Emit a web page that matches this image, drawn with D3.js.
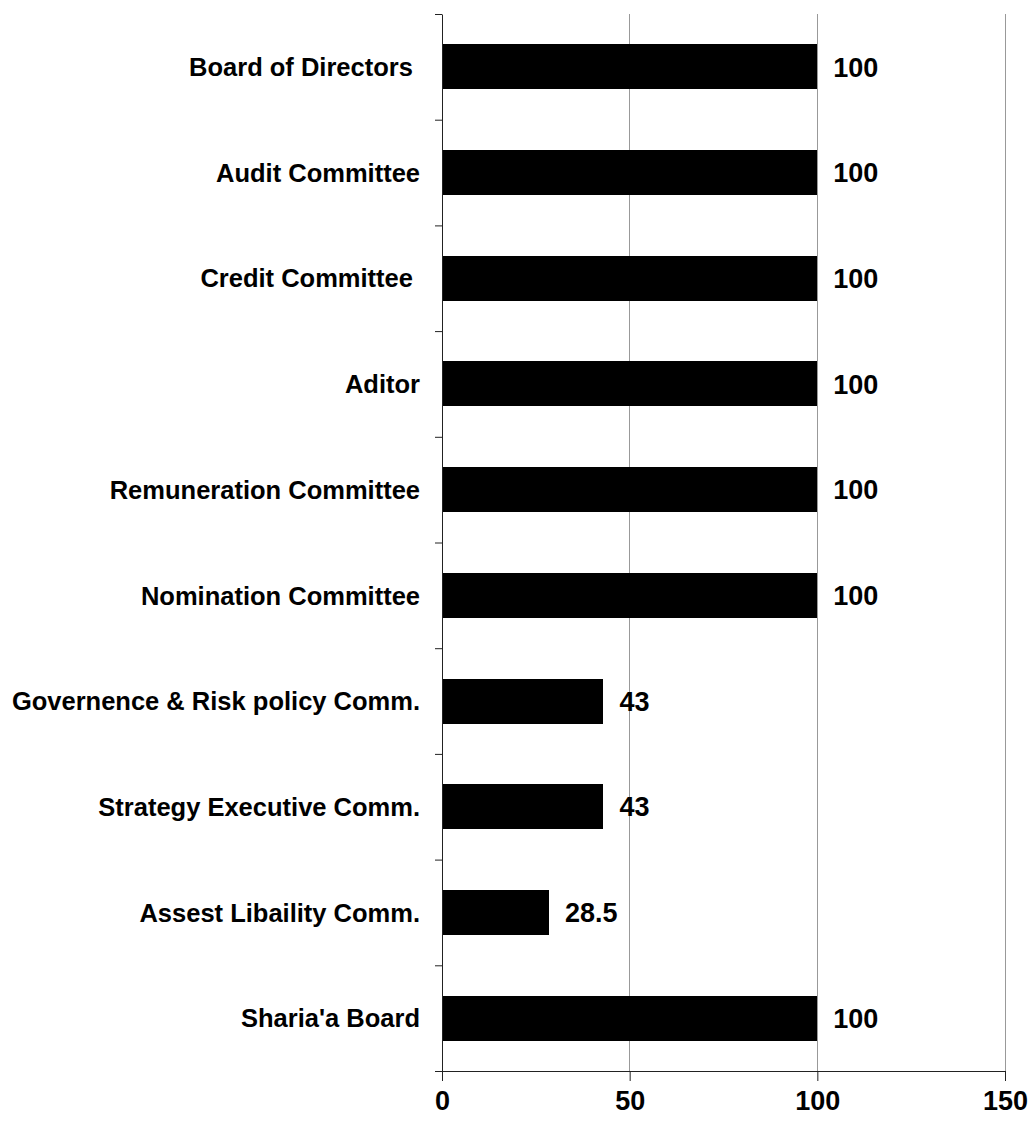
<!DOCTYPE html>
<html>
<head>
<meta charset="utf-8">
<script src="https://cdn.jsdelivr.net/npm/d3@7"></script>
<style>
  html, body { margin: 0; padding: 0; background: #fff; }
  svg { display: block; }
  text { font-family: "Liberation Sans", Arial, sans-serif; font-weight: bold; fill: #000; }
</style>
</head>
<body>
<svg id="chart" width="1032" height="1122"></svg>
<script>
// Committee names, top to bottom (trailing spaces kept as written)
const categories = [
  "Board of Directors ",
  "Audit Committee",
  "Credit Committee ",
  "Aditor",
  "Remuneration Committee",
  "Nomination Committee",
  "Governence & Risk policy Comm.",
  "Strategy Executive Comm.",
  "Assest Libaility Comm.",
  "Sharia'a Board"
];
// Percentage for each committee
const values = [100, 100, 100, 100, 100, 100, 43, 43, 28.5, 100];
// Value axis ticks
const xTicks = [0, 50, 100, 150];

const svg = d3.select("#chart");
const plot = { left: 442, right: 1005, top: 14, bottom: 1071 };

const x = d3.scaleLinear().domain([0, 150]).range([plot.left, plot.right]);
const y = d3.scaleBand().domain(categories)
  .range([plot.top, plot.bottom])
  .paddingInner(0.574).paddingOuter(0.287);
// Category boundaries for the tick marks on the vertical axis
const yEdge = d3.scaleLinear().domain([0, categories.length]).range([plot.top, plot.bottom]);

// Vertical gridlines
svg.append("g")
  .selectAll("line")
  .data(xTicks.filter(d => d > 0))
  .join("line")
  .attr("x1", d => x(d)).attr("x2", d => x(d))
  .attr("y1", plot.top).attr("y2", plot.bottom)
  .attr("stroke", "#999").attr("stroke-width", 1)
  .attr("shape-rendering", "crispEdges");

// Bars
svg.append("g")
  .selectAll("rect")
  .data(categories)
  .join("rect")
  .attr("x", x(0))
  .attr("y", d => y(d))
  .attr("width", (d, i) => x(values[i]) - x(0))
  .attr("height", y.bandwidth())
  .attr("fill", "#000")
  .attr("shape-rendering", "crispEdges");

// Value labels
svg.append("g")
  .selectAll("text")
  .data(categories)
  .join("text")
  .attr("x", (d, i) => x(values[i]) + 16)
  .attr("y", d => y(d) + y.bandwidth() / 2)
  .attr("dy", "0.36em")
  .attr("font-size", 27)
  .text((d, i) => values[i]);

// Category labels
svg.append("g")
  .selectAll("text")
  .data(categories)
  .join("text")
  .attr("x", 420)
  .attr("y", d => y(d) + y.bandwidth() / 2)
  .attr("dy", "0.36em")
  .attr("text-anchor", "end")
  .attr("font-size", 25.5)
  .style("white-space", "pre")
  .text(d => d);

// Vertical axis with ticks between categories
const yAxis = svg.append("g")
  .attr("transform", `translate(${plot.left},0)`)
  .call(d3.axisLeft(yEdge).tickValues(d3.range(categories.length + 1)).tickSize(7).tickSizeOuter(0).tickFormat(""));
yAxis.select(".domain").attr("stroke", "#222");
yAxis.selectAll(".tick line").attr("stroke", "#222");

// Horizontal value axis
const xAxis = svg.append("g")
  .attr("transform", `translate(0,${plot.bottom})`)
  .call(d3.axisBottom(x).tickValues(xTicks).tickSize(10).tickSizeOuter(0).tickPadding(10));
xAxis.select(".domain").attr("stroke", "#222");
xAxis.selectAll(".tick line").attr("stroke", "#222");
xAxis.selectAll(".tick text")
  .attr("font-size", 27)
  .attr("font-family", "Liberation Sans, Arial, sans-serif")
  .attr("font-weight", "bold")
  .attr("fill", "#000");
</script>
</body>
</html>
